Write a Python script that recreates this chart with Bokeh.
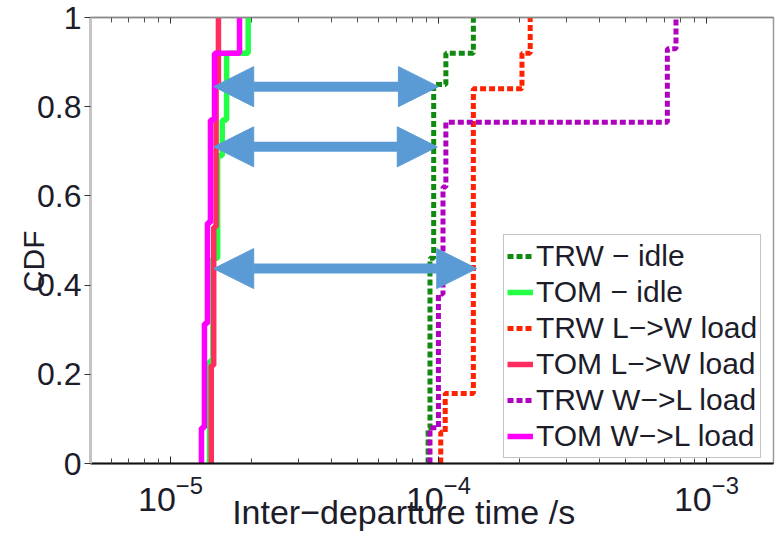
import numpy as np
from bokeh.plotting import figure
from bokeh.models import (FixedTicker, LogAxis, Legend, LegendItem, Arrow, NormalHead, Range1d)
from bokeh.embed import file_html
from bokeh.resources import INLINE

# ---------------- data ----------------
series_names = ["TRW \u2212 idle", "TOM \u2212 idle", "TRW L\u2212>W load",
                "TOM L\u2212>W load", "TRW W\u2212>L load", "TOM W\u2212>L load"]

trw_idle_x = [9.15e-5, 9.3e-5, 9.6e-5, 1.066e-4, 1.35e-4]
trw_idle_cdf = [0.08, 0.46, 0.85, 0.92, 1.0]

tom_idle_x = [1.40e-5, 1.44e-5, 1.50e-5, 1.56e-5, 1.62e-5, 1.95e-5]
tom_idle_cdf = [0.23, 0.46, 0.69, 0.77, 0.92, 1.0]

trw_lw_x = [1.02e-4, 1.06e-4, 1.35e-4, 2.05e-4, 2.2e-4]
trw_lw_cdf = [0.07, 0.157, 0.84, 0.92, 1.0]

tom_lw_x = [1.42e-5, 1.45e-5, 1.48e-5, 1.51e-5]
tom_lw_cdf = [0.22, 0.53, 0.85, 1.0]

trw_wl_x = [9.3e-5, 1.0e-4, 1.04e-4, 1.066e-4, 7.15e-4, 7.7e-4]
trw_wl_cdf = [0.08, 0.38, 0.62, 0.765, 0.93, 1.0]

tom_wl_x = [1.305e-5, 1.339e-5, 1.374e-5, 1.41e-5, 1.46e-5, 1.81e-5]
tom_wl_cdf = [0.08, 0.314, 0.54, 0.77, 0.92, 1.0]

# annotation arrows (CDF level, left tip, right tip)
arrow_cdf = [0.845, 0.71, 0.437]
arrow_left = [1.45e-5, 1.45e-5, 1.45e-5]
arrow_right = [1.0e-4, 9.9e-5, 1.39e-4]

x_major = [1e-5, 1e-4, 1e-3]
y_ticks = [0, 0.2, 0.4, 0.6, 0.8, 1.0]
y_tick_labels = ["0", "0.2", "0.4", "0.6", "0.8", "1"]
x_title = "Inter\u2212departure time /s"
y_title = "CDF"

# ---------------- styles ----------------
colors = ["#118a11", "#22ff44", "#ff2200", "#ff2d60", "#b000c0", "#ff00ff"]
dotted = [True, False, True, False, True, False]
FONT = "Liberation Sans"
TXT = "#1c1c2a"
ARROW_C = "#5b9bd5"
NBSP = "\u00a0"


def cdf_path(xs, fs):
    px, py = [xs[0]], [0.0]
    prev = 0.0
    for x, f in zip(xs, fs):
        px += [x, x]
        py += [prev, f]
        prev = f
    return px, py


p = figure(width=776, height=536, x_axis_type="log",
           x_range=Range1d(5.03e-6, 1.78e-3), y_range=Range1d(0, 1),
           output_backend="svg", toolbar_location=None,
           min_border_left=90, min_border_right=3, min_border_top=17, min_border_bottom=73)
p.background_fill_color = "white"
p.border_fill_color = "white"
p.outline_line_color = "#9a9a9a"
p.outline_line_width = 1.5
p.xgrid.visible = False
p.ygrid.visible = False

all_series = [(trw_idle_x, trw_idle_cdf), (tom_idle_x, tom_idle_cdf),
              (trw_lw_x, trw_lw_cdf), (tom_lw_x, tom_lw_cdf),
              (trw_wl_x, trw_wl_cdf), (tom_wl_x, tom_wl_cdf)]

items = []
for (xs, fs), name, col, dot in zip(all_series, series_names, colors, dotted):
    px, py = cdf_path(xs, fs)
    if dot:
        r = p.line(px, py, line_color=col, line_width=5, line_dash="6 3", line_cap="butt")
    else:
        r = p.line(px, py, line_color=col, line_width=5.5)
    items.append(LegendItem(label=name, renderers=[r]))

for yl, xa, xb in zip(arrow_cdf, arrow_left, arrow_right):
    p.add_layout(Arrow(start=NormalHead(size=40, fill_color=ARROW_C, line_color=ARROW_C),
                       end=NormalHead(size=40, fill_color=ARROW_C, line_color=ARROW_C),
                       x_start=xa, y_start=yl, x_end=xb, y_end=yl,
                       line_color=ARROW_C, line_width=10))

# x axis (bottom)
x_minor = [m * 10.0 ** e for e in (-6, -5, -4, -3) for m in range(2, 10)]
xa_ = p.xaxis[0]
xa_.ticker = FixedTicker(ticks=x_major, minor_ticks=x_minor)
xa_.major_tick_in = 7
xa_.major_tick_out = 0
xa_.minor_tick_in = 5
xa_.minor_tick_out = 0
xa_.axis_line_color = "#111111"
xa_.axis_line_width = 2
xa_.major_tick_line_color = "#222222"
xa_.minor_tick_line_color = "#444444"
xa_.major_label_text_font = FONT
xa_.major_label_text_font_size = "34px"
xa_.major_label_text_color = TXT
xa_.major_label_standoff = 12
xa_.axis_label = x_title + NBSP * 6
xa_.axis_label_text_font = FONT
xa_.axis_label_text_font_size = "34px"
xa_.axis_label_text_font_style = "normal"
xa_.axis_label_text_color = TXT
xa_.axis_label_standoff = -21

# top axis (ticks only)
top = LogAxis(ticker=FixedTicker(ticks=x_major, minor_ticks=x_minor))
top.major_tick_in = 6
top.major_tick_out = 0
top.minor_tick_in = 5
top.minor_tick_out = 0
top.axis_line_color = "#8a8a8a"
top.axis_line_width = 1.5
top.major_label_text_font_size = "0px"
top.major_label_text_alpha = 0
top.major_tick_line_color = "#333333"
top.minor_tick_line_color = "#555555"
p.add_layout(top, "above")

# y axis
ya_ = p.yaxis[0]
ya_.ticker = FixedTicker(ticks=y_ticks)
ya_.major_label_overrides = {t: s for t, s in zip(y_ticks, y_tick_labels)}
ya_.major_tick_in = 0
ya_.major_tick_out = 6
ya_.minor_tick_line_color = None
ya_.axis_line_color = "#c4c4c4"
ya_.axis_line_width = 3
ya_.major_tick_line_color = "#333333"
ya_.major_label_text_font = FONT
ya_.major_label_text_font_size = "32px"
ya_.major_label_text_color = TXT
ya_.major_label_standoff = 3
ya_.axis_label = y_title + NBSP * 5
ya_.axis_label_text_font = FONT
ya_.axis_label_text_font_size = "30px"
ya_.axis_label_text_font_style = "normal"
ya_.axis_label_text_color = TXT
ya_.axis_label_standoff = -16

legend = Legend(items=items, location=(413, 5))
legend.label_text_font = FONT
legend.label_text_font_size = "30px"
legend.label_text_color = TXT
legend.label_height = 36
legend.glyph_height = 20
legend.glyph_width = 26
legend.label_standoff = 3
legend.spacing = 0
legend.padding = 3
legend.margin = 0
legend.border_line_color = "#8a8a8a"
legend.border_line_width = 1.5
legend.background_fill_color = "white"
legend.background_fill_alpha = 1
p.add_layout(legend)

open("out.html", "w").write(file_html(p, INLINE))
